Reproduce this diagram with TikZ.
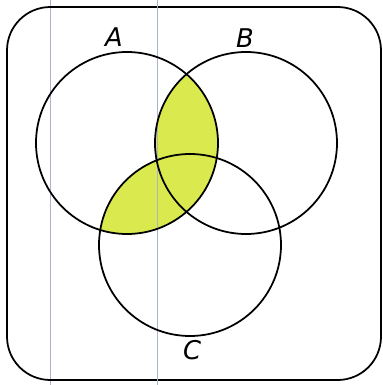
\documentclass[tikz,border=0pt]{standalone}
\usepackage{fontspec}
\setmainfont{DejaVu Sans}
\definecolor{vennfill}{RGB}{218,234,78}
\definecolor{ruling}{RGB}{170,180,205}
\begin{document}
\begin{tikzpicture}[x=0.03cm,y=-0.03cm,
  setline/.style={line width=1.5pt,black},
  lbl/.style={font=\fontsize{22}{22}\selectfont\itshape}]
\useasboundingbox (0,0) rectangle (382,385);
\fill[white] (0,0) rectangle (382,385);
% faint ruling lines
\draw[ruling,line width=0.6pt] (50,0) -- (50,385);
% universe frame
\draw[setline,rounded corners=1.3cm] (7,7) rectangle (381,380);
\coordinate (cA) at (127,143);
\coordinate (cB) at (246,143);
\coordinate (cC) at (190,245);
% fill A and (B or C)
\begin{scope}
  \clip (cA) circle (91);
  \fill[vennfill] (cB) circle (91);
  \fill[vennfill] (cC) circle (91);
\end{scope}
\draw[ruling,line width=0.6pt] (157,0) -- (157,385);
\draw[setline] (cA) circle (91);
\draw[setline] (cB) circle (91);
\draw[setline] (cC) circle (91);
\node[lbl] (lA) at (114,37) {A};
\node[lbl] (lB) at (245,38) {B};
\node[lbl] (lC) at (192,350) {C};
\end{tikzpicture}
\end{document}
